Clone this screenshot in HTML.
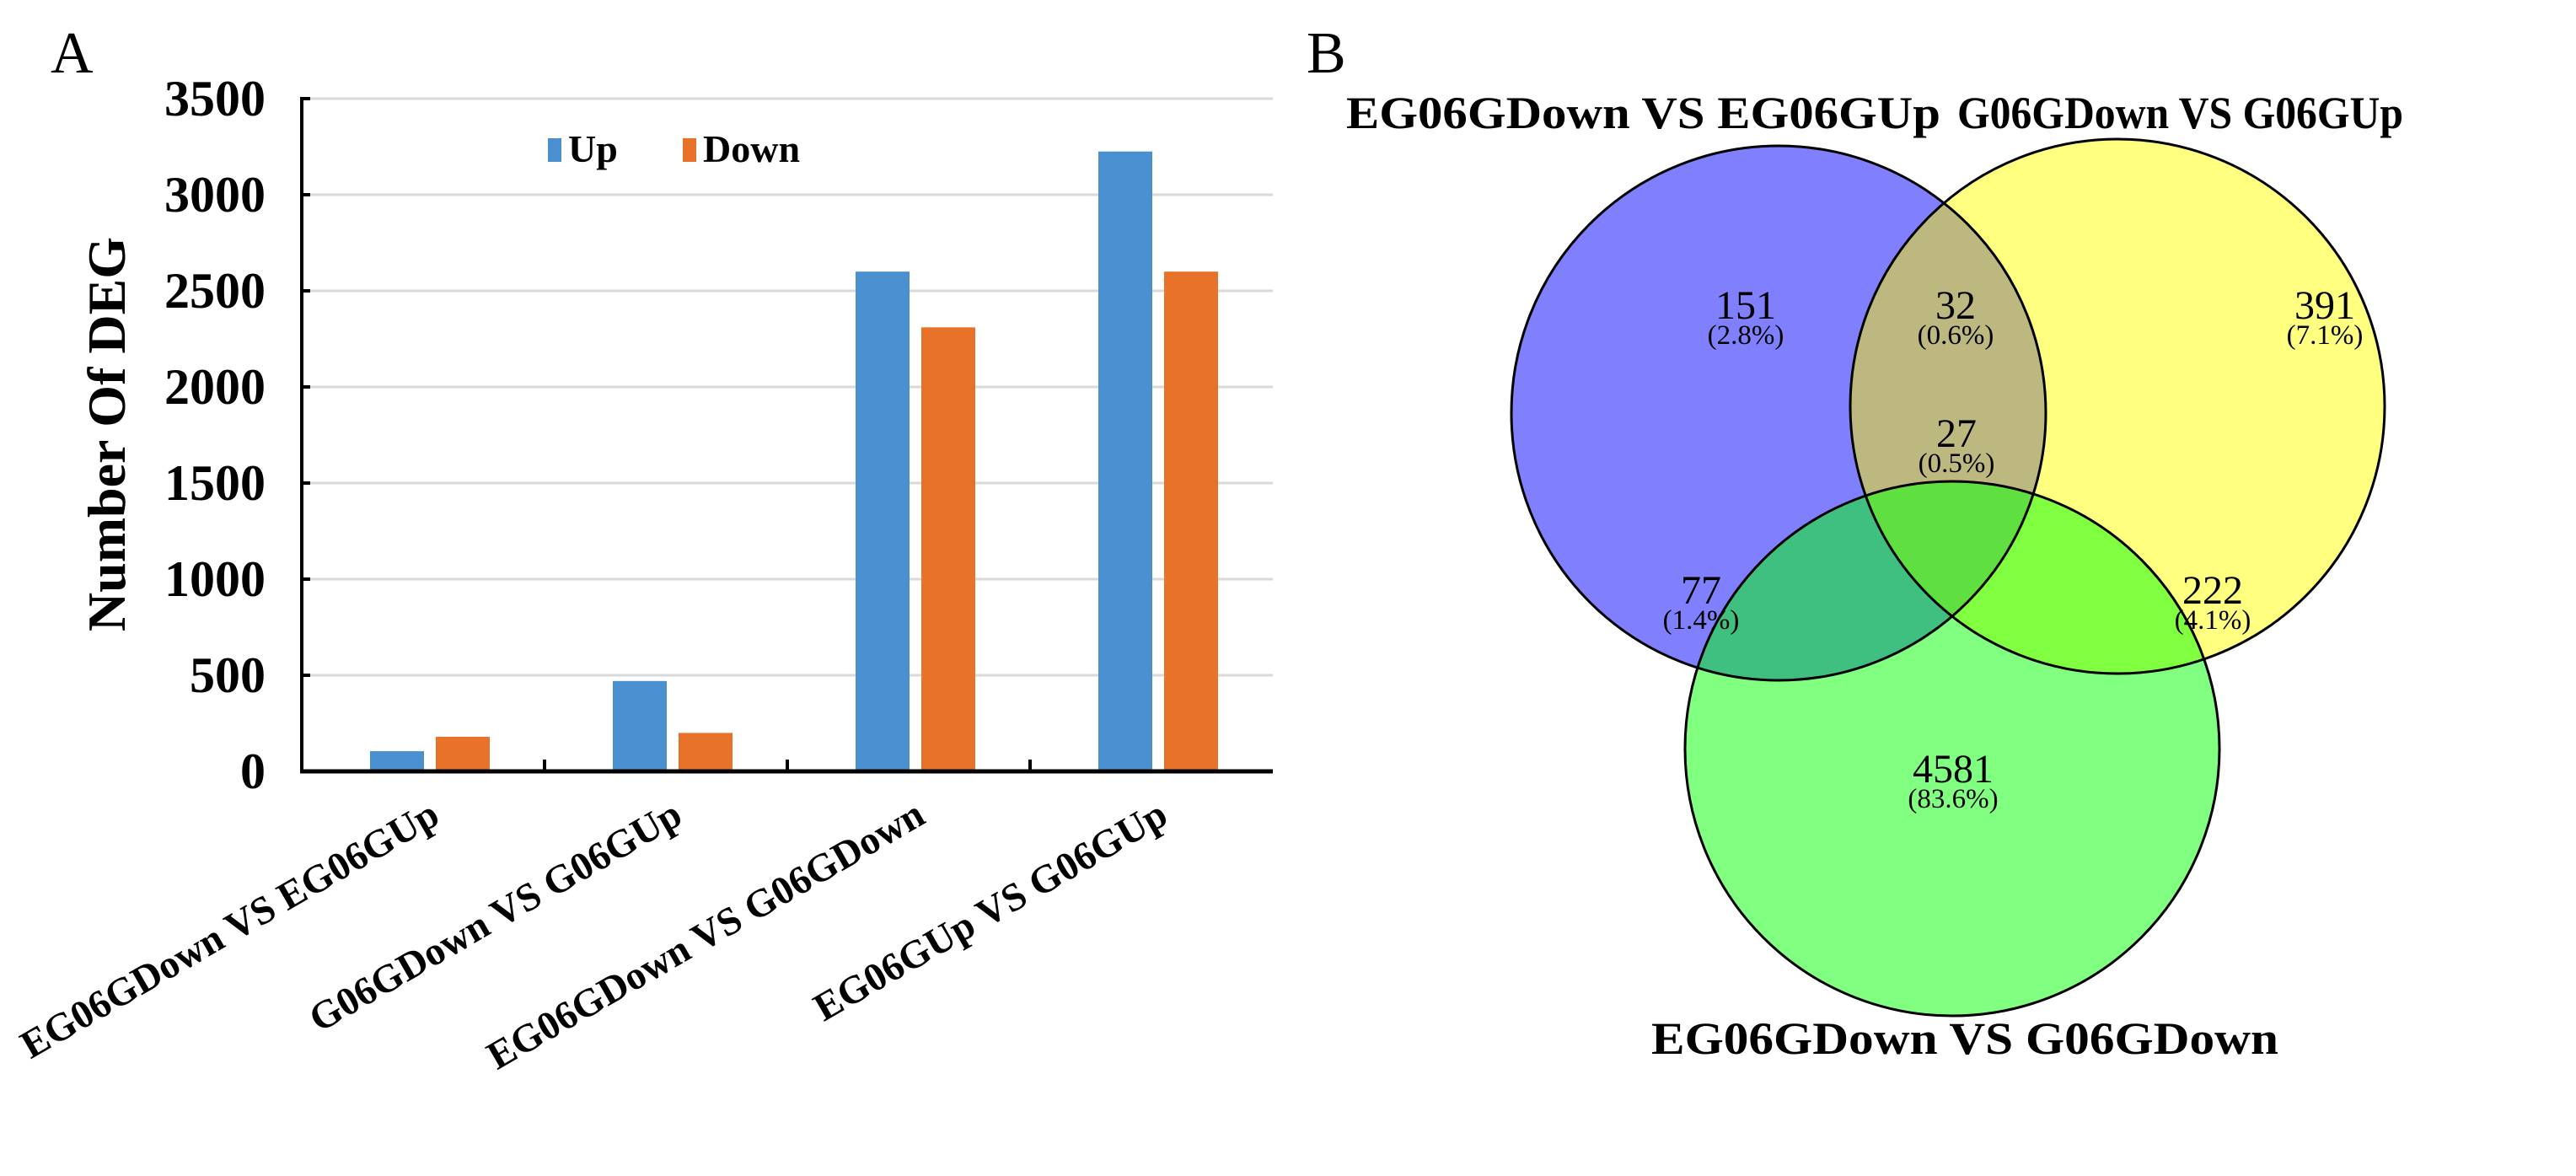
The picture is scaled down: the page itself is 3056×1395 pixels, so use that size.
<!DOCTYPE html>
<html><head><meta charset="utf-8"><style>
html,body{margin:0;padding:0;background:#fff;}
svg{display:block;font-family:"Liberation Serif","Noto Serif CJK SC",serif;}
</style></head><body>
<svg id="fig" width="3056" height="1395" viewBox="0 0 3056 1395">
<text x="60" y="86" font-size="70">A</text>
<g id="chart"></g>
<text x="1550" y="86" font-size="70">B</text>
<g id="venn">
<defs>
<clipPath id="cP"><circle cx="2110" cy="490" r="317"/></clipPath>
<clipPath id="cY"><circle cx="2512" cy="482" r="317"/></clipPath>
<clipPath id="cG"><circle cx="2316" cy="888" r="317"/></clipPath>
</defs>
<circle cx="2110" cy="490" r="317" fill="#8080ff"/>
<circle cx="2512" cy="482" r="317" fill="#ffff80"/>
<circle cx="2316" cy="888" r="317" fill="#80ff80"/>
<g clip-path="url(#cP)"><circle cx="2512" cy="482" r="317" fill="#bdb880"/><circle cx="2316" cy="888" r="317" fill="#40c080"/></g>
<g clip-path="url(#cY)"><circle cx="2316" cy="888" r="317" fill="#80ff40"/></g>
<g clip-path="url(#cP)"><g clip-path="url(#cY)"><circle cx="2316" cy="888" r="317" fill="#60df40"/></g></g>
<g fill="none" stroke="#000" stroke-width="3">
<circle cx="2110" cy="490" r="317"/><circle cx="2512" cy="482" r="317"/><circle cx="2316" cy="888" r="317"/>
</g>
<g font-weight="bold" font-size="54">
<text x="1597" y="152" textLength="705" lengthAdjust="spacingAndGlyphs">EG06GDown VS EG06GUp</text>
<text x="2322" y="152" textLength="529" lengthAdjust="spacingAndGlyphs">G06GDown VS G06GUp</text>
<text x="1959" y="1250" textLength="744" lengthAdjust="spacingAndGlyphs">EG06GDown VS G06GDown</text>
</g>
<g text-anchor="middle">
<text x="2071" y="378" font-size="48">151</text>
<text x="2071" y="408" font-size="33">(2.8%)</text>
<text x="2320" y="378" font-size="48">32</text>
<text x="2320" y="408" font-size="33">(0.6%)</text>
<text x="2758" y="378" font-size="48">391</text>
<text x="2758" y="408" font-size="33">(7.1%)</text>
<text x="2321" y="530" font-size="48">27</text>
<text x="2321" y="560" font-size="33">(0.5%)</text>
<text x="2018" y="716" font-size="48">77</text>
<text x="2018" y="746" font-size="33">(1.4%)</text>
<text x="2625" y="716" font-size="48">222</text>
<text x="2625" y="746" font-size="33">(4.1%)</text>
<text x="2317" y="928" font-size="48">4581</text>
<text x="2317" y="958" font-size="33">(83.6%)</text>
</g>
</g>
</svg>
<script>
const categories = ["EG06GDown VS EG06GUp","G06GDown VS G06GUp","EG06GDown VS G06GDown","EG06GUp VS G06GUp"];
const upValues = [105, 470, 2600, 3225];
const downValues = [180, 200, 2310, 2600];
const yTicks = [0, 500, 1000, 1500, 2000, 2500, 3000, 3500];
const NS = "http://www.w3.org/2000/svg";
const g = document.getElementById("chart");
const X0 = 358, X1 = 1510, Y0 = 915, YTOP = 117, YMAX = 3500;
const yS = v => Y0 - (v / YMAX) * (Y0 - YTOP);
const gw = (X1 - X0) / categories.length;
const xC = i => X0 + gw * (i + 0.5);
function mk(tag, attrs){ const e = document.createElementNS(NS, tag); for (const k in attrs) e.setAttribute(k, attrs[k]); g.appendChild(e); return e; }
yTicks.forEach(t => {
  if (t > 0) {
    const l = mk("line", {x1: X0, x2: X1, y1: yS(t), y2: yS(t), stroke: "#d9d9d9", "stroke-width": 3});
    
    
  }
  const tk = mk("line", {x1: X0, x2: X0 + 10, y1: yS(t), y2: yS(t), stroke: "#000", "stroke-width": 4});
  
  
  const tx = mk("text", {x: 315, y: yS(t) + 20, "font-size": 60, "font-weight": "bold", "text-anchor": "end"});
  tx.textContent = t;
  
  
});
const bw = 64, gap = 14;
categories.forEach((c, i) => {
  const cx = xC(i) + 8;
  const bu = mk("rect", {x: cx - gap/2 - bw, y: yS(upValues[i]), width: bw, height: Y0 - yS(upValues[i]), fill: "#4a8fd0"});
  
  
  const bd = mk("rect", {x: cx + gap/2, y: yS(downValues[i]), width: bw, height: Y0 - yS(downValues[i]), fill: "#e8722a"});
  
  
  if (i > 0) {
    const tk = mk("line", {x1: X0 + gw * i, x2: X0 + gw * i, y1: Y0, y2: Y0 - 14, stroke: "#000", "stroke-width": 4});
    
    
  }
  const ax = xC(i) + 22, ay = 975;
  const lb = mk("text", {x: ax, y: ay, "font-size": 47, "font-weight": "bold", "text-anchor": "end", transform: `rotate(-30 ${ax} ${ay})`});
  lb.textContent = c;
  
  
});
const ya = mk("line", {x1: X0, x2: X0, y1: YTOP - 2, y2: Y0 + 2, stroke: "#000", "stroke-width": 4});


const xa = mk("line", {x1: X0 - 2, x2: X1, y1: Y0, y2: Y0, stroke: "#000", "stroke-width": 5});


const yt = mk("text", {x: 148, y: 515, "font-size": 64, "font-weight": "bold", "text-anchor": "middle", transform: "rotate(-90 148 515)"});
yt.textContent = "Number Of DEG";


const l1 = mk("rect", {x: 650, y: 164, width: 16, height: 28, fill: "#4a8fd0"});


const t1 = mk("text", {x: 674, y: 192, "font-size": 46, "font-weight": "bold"});
t1.textContent = "Up";


const l2 = mk("rect", {x: 810, y: 164, width: 16, height: 28, fill: "#e8722a"});


const t2 = mk("text", {x: 834, y: 192, "font-size": 46, "font-weight": "bold"});
t2.textContent = "Down";


</script>
</body></html>
